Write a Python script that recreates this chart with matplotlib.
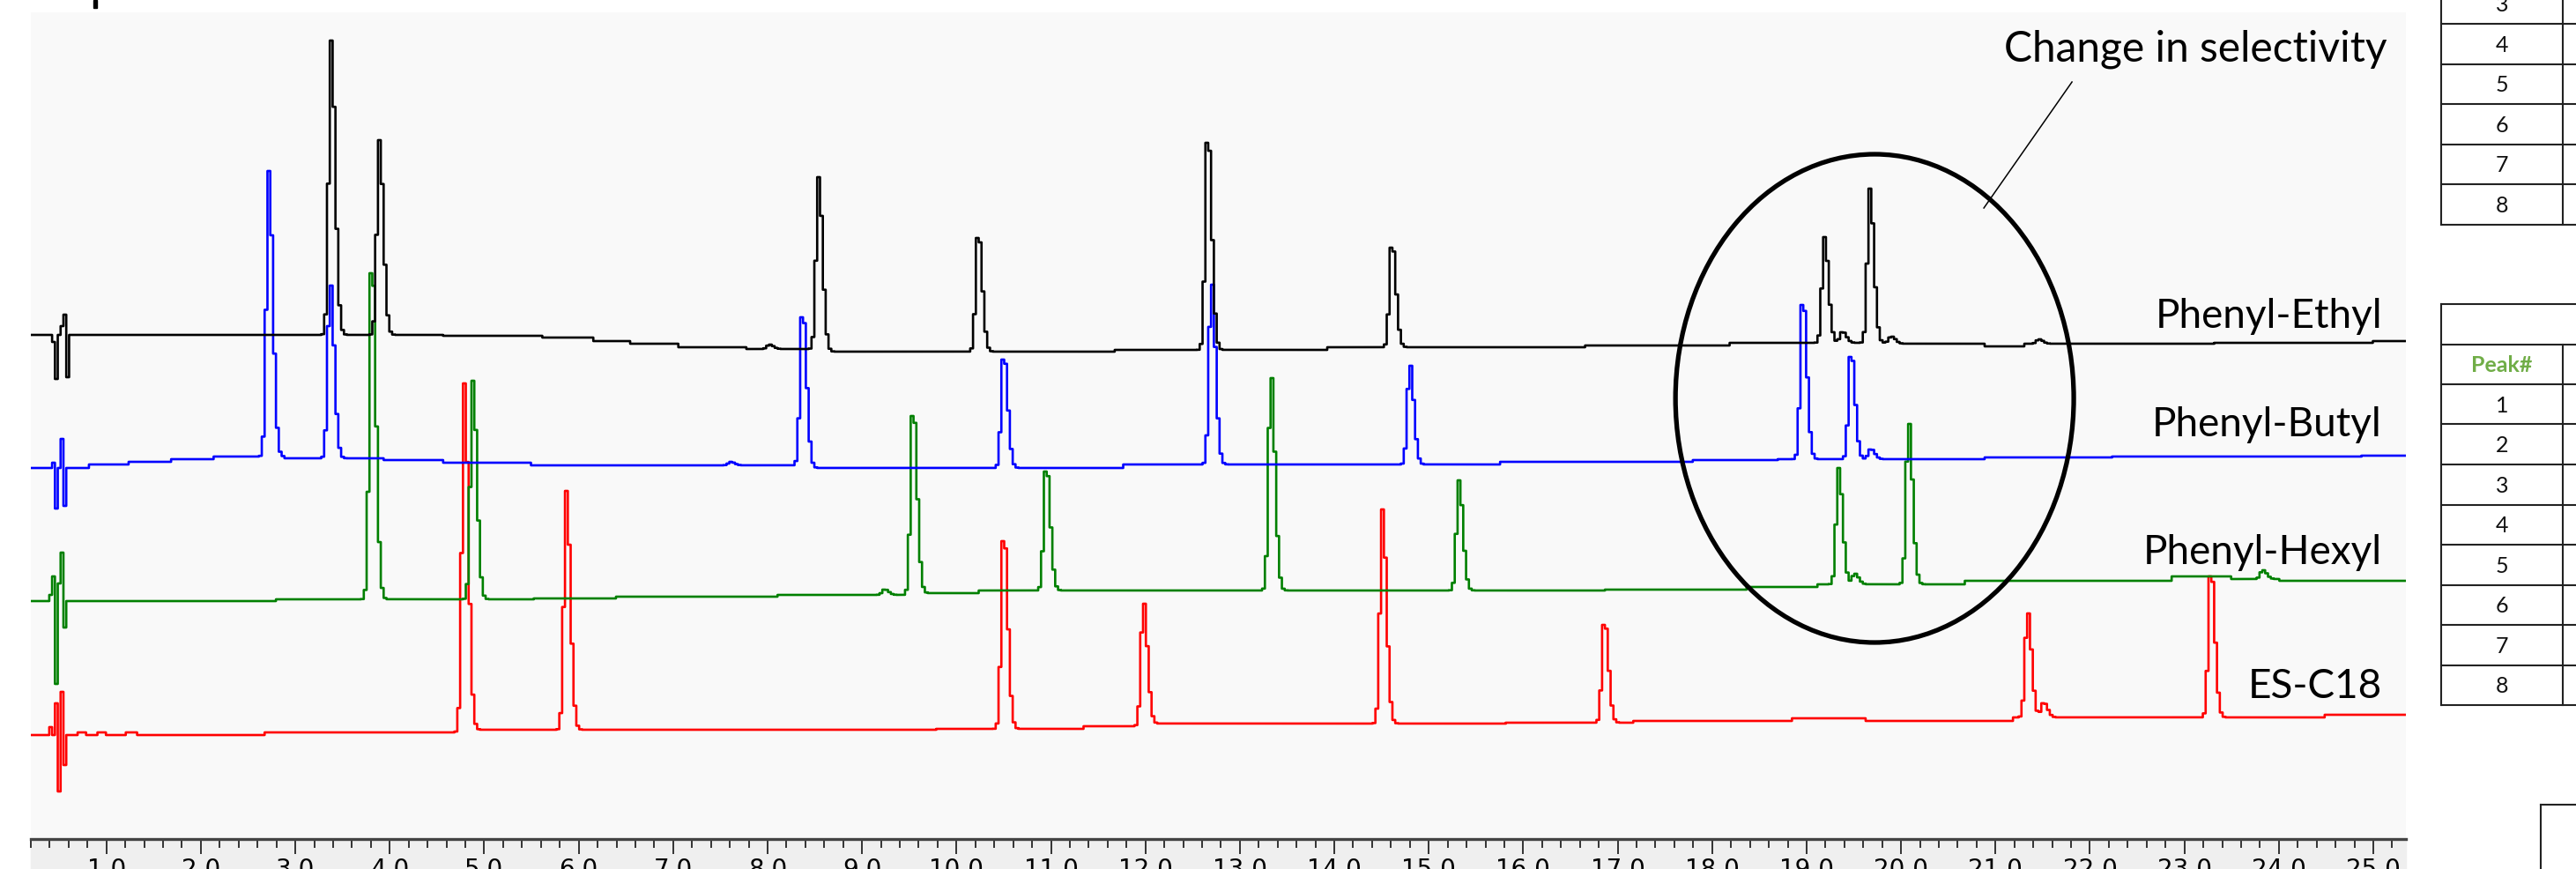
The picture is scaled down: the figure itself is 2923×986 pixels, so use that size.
import numpy as np
import matplotlib.pyplot as plt
from matplotlib.patches import Ellipse, Rectangle
from matplotlib.lines import Line2D

# ---------------------------- data ----------------
# retention times (min) and peak heights (response units above the local baseline)
black_t = [3.38, 3.89, 8.02, 8.54, 10.23, 12.66, 14.61, 19.19, 19.38, 19.67, 19.90, 21.46]
black_h = [334, 221, 5, 195, 129, 235, 113, 120, 12, 175, 8, 5]
blue_t = [2.72, 3.37, 7.61, 8.37, 10.50, 12.70, 14.80, 18.96, 19.47, 19.68]
blue_h = [324, 196, 4, 171, 123, 204, 112, 175, 116, 11]
green_t = [3.81, 4.88, 9.24, 9.54, 10.95, 13.33, 15.32, 19.34, 19.51, 20.08, 23.83]
green_h = [370, 248, 6, 201, 135, 241, 125, 132, 12, 182, 10]
red_t = [4.79, 5.87, 10.50, 11.98, 14.51, 16.86, 21.34, 21.51, 23.28]
red_h = [396, 271, 213, 139, 243, 111, 118, 16, 160]

# stepped baselines (time where the level starts, level) -- traces are stacked
black_base_t = [0.0, 4.58, 5.63, 6.15, 6.56, 7.07, 7.78, 8.6, 11.68, 13.94, 16.64, 18.18, 19.9, 20.9, 21.3, 23.3, 25.0]
black_base_y = [572, 571, 569, 565, 562, 558, 556, 553, 555, 558, 560, 563, 562, 559, 562, 563, 565]
blue_base_t = [0.0, 0.81, 1.23, 1.69, 2.15, 2.9, 3.94, 4.58, 5.50, 8.32, 11.78, 15.77, 17.81, 18.7, 20.88, 22.25, 24.87]
blue_base_y = [421, 425, 428, 431, 434, 432, 430, 427, 424, 421, 425, 428, 430, 431, 433, 434, 435]
green_base_t = [0.0, 2.79, 5.52, 6.41, 8.12, 9.49, 10.24, 16.86, 18.35, 19.1, 20.67, 22.87, 23.5, 24.0]
green_base_y = [270, 272, 273, 275, 277, 279, 282, 283, 286, 289, 293, 298, 295, 293]
red_base_t = [0.0, 0.70, 0.78, 0.90, 1.0, 1.2, 1.32, 2.69, 4.85, 9.79, 11.36, 12.03, 15.81, 17.18, 18.85, 19.63, 21.17, 24.5]
red_base_y = [118, 121, 118, 121, 118, 121, 118, 121, 124, 125, 128, 131, 132, 134, 137, 134, 138, 141]

# injection disturbance at the start of each run (time, deflection)
black_art_t = [0.44, 0.47, 0.53, 0.56, 0.59]
black_art_a = [-8, -50, 10, 23, -48]
blue_art_t = [0.44, 0.47, 0.53, 0.56]
blue_art_a = [6, -46, 33, -43]
green_art_t = [0.41, 0.44, 0.47, 0.50, 0.53, 0.56]
green_art_a = [7, 28, -94, 20, 55, -30]
red_art_t = [0.41, 0.47, 0.50, 0.53, 0.56]
red_art_a = [9, 36, -64, 49, -34]

column_names = ['Phenyl-Ethyl', 'Phenyl-Butyl', 'Phenyl-Hexyl', 'ES-C18']
table1_peaks = ['3', '4', '5', '6', '7', '8']
table2_peaks = ['Peak#', '1', '2', '3', '4', '5', '6', '7', '8']

# ------------------------------------------------------------------------------
W, H = 2923, 986
t = np.arange(0.2, 25.45, 0.03)


def fx(px):
    return px / W


def fy(py):
    return 1 - py / H


def trace(pk_t, pk_h, base_t, base_y, art_t, art_a):
    idx = np.searchsorted(base_t, t, side='right') - 1
    y = np.array(base_y, dtype=float)[idx]
    for p, h in zip(pk_t, pk_h):
        sig = np.where(t < p, 0.026, 0.042)
        g = np.exp(-0.5 * ((t - p) / sig) ** 2)
        y += h * g / g.max()
    for a_t, a in zip(art_t, art_a):
        y[np.abs(t - a_t).argmin()] += a
    return y


fig = plt.figure(figsize=(W / 100, H / 100), dpi=100)
ax = fig.add_axes([fx(35), 1 - 952 / H, (2730 - 35) / W, (952 - 14) / H])
ax.set_facecolor('#f9f9f9')

# gray strip holding the time scale
fig.add_artist(Rectangle((fx(35), 0), (2730 - 35) / W, (H - 952) / H,
                         transform=fig.transFigure, color='#efefef', zorder=-1))
fig.add_artist(Rectangle((fx(106), fy(9)), 4 / W, 9 / H,
                         transform=fig.transFigure, color='black'))

runs = [(red_t, red_h, red_base_t, red_base_y, red_art_t, red_art_a, '#ff0000'),
        (green_t, green_h, green_base_t, green_base_y, green_art_t, green_art_a, '#008000'),
        (blue_t, blue_h, blue_base_t, blue_base_y, blue_art_t, blue_art_a, '#0000ff'),
        (black_t, black_h, black_base_t, black_base_y, black_art_t, black_art_a, '#000000')]
for pk_t, pk_h, b_t, b_y, a_t, a_a, col in runs:
    ax.plot(t, trace(pk_t, pk_h, b_t, b_y, a_t, a_a), drawstyle='steps-mid',
            color=col, lw=1.9)

ax.set_xlim((35 - 13) / 107.2, (2730 - 13) / 107.2)
ax.set_ylim(0, 938)

ax.set_xticks(np.arange(1, 26))
ax.set_xticklabels([f'{v:.1f}' for v in range(1, 26)])
ax.set_xticks(np.arange(0.2, 25.4, 0.2), minor=True)
ax.tick_params(axis='x', which='major', length=12, width=1.4, color='#333333',
               pad=3, labelsize=20)
ax.tick_params(axis='x', which='minor', length=7, width=1.4, color='#333333')
for lab in ax.get_xticklabels():
    lab.set_family(['Liberation Sans Narrow', 'DejaVu Sans'])
ax.set_yticks([])
for s in ['top', 'left', 'right']:
    ax.spines[s].set_visible(False)
ax.spines['bottom'].set_linewidth(2.4)
ax.spines['bottom'].set_color('#444444')

# circled region and its callout
ax.add_patch(Ellipse(((2127 - 13) / 107.2, 952 - 452), 452 / 107.2, 554,
                     fill=False, lw=3.8, color='black', clip_on=False, zorder=5))
ax.plot([(2351 - 13) / 107.2, (2251 - 13) / 107.2], [952 - 93, 952 - 236],
        color='black', lw=1.1, clip_on=False)

fig.text(fx(2708), fy(70), 'Change in selectivity', ha='right', va='baseline',
         fontsize=34.5, family='Lato')
for name, base in zip(column_names, [372, 495, 640, 792]):
    fig.text(fx(2703), fy(base), name, ha='right', va='baseline',
             fontsize=33, family='Lato')


# tables of peak numbers at the right edge
def hline(y, x0, x1):
    fig.add_artist(Line2D([fx(x0), fx(x1)], [fy(y), fy(y)], transform=fig.transFigure,
                          color='#222222', lw=1.5))


def vline(x, y0, y1):
    fig.add_artist(Line2D([fx(x), fx(x)], [fy(y0), fy(y1)], transform=fig.transFigure,
                          color='#222222', lw=1.5))


rh = 45.5
tops1 = [-18.5 + rh * i for i in range(len(table1_peaks) + 1)]
for y in tops1:
    hline(y, 2770, 2923)
vline(2770, -20, tops1[-1])
vline(2908, -20, tops1[-1])
for i, lab in enumerate(table1_peaks):
    fig.text(fx(2839), fy(tops1[i] + rh / 2 + 9), lab, ha='center', va='baseline',
             fontsize=18, family='Lato', color='#111111')

tops2 = [345 + rh * i for i in range(len(table2_peaks) + 2)]
for y in tops2:
    hline(y, 2770, 2923)
vline(2770, 345, tops2[-1])
vline(2908, tops2[1], tops2[-1])
for i, lab in enumerate(table2_peaks):
    yb = tops2[i + 1] + rh / 2 + 9
    if lab == 'Peak#':
        fig.text(fx(2839), fy(yb), lab, ha='center', va='baseline', fontsize=18,
                 family='Lato', weight='bold', color='#70ad47')
    else:
        fig.text(fx(2839), fy(yb), lab, ha='center', va='baseline', fontsize=18,
                 family='Lato', color='#111111')

hline(913, 2883, 2923)
vline(2883, 913, 990)

fig.savefig('out.png', dpi=100, facecolor='white')
